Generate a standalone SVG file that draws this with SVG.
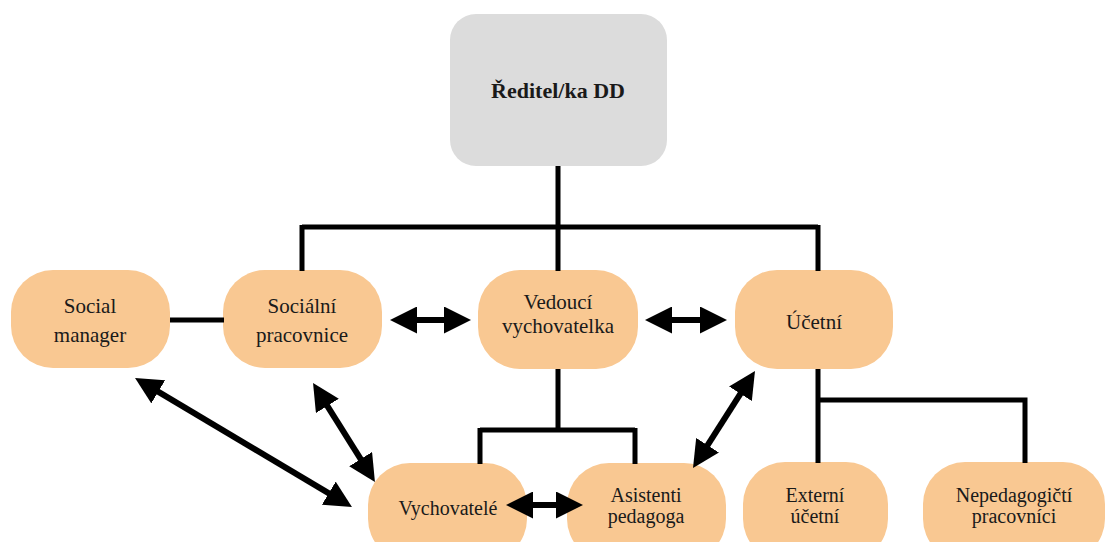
<svg xmlns="http://www.w3.org/2000/svg" width="1112" height="542" viewBox="0 0 1112 542">
<style>
.n{fill:#f9c892;}
.top{fill:#dcdcdc;}
text{font-family:"Liberation Serif","Times New Roman",serif;font-size:21px;fill:#1a1a1a;text-anchor:middle;}
.b{font-weight:bold;font-size:22px;}
.s{font-size:20px;}
.c{fill:none;stroke:#000;stroke-width:5;}
.a{fill:none;stroke:#000;stroke-width:6;marker-start:url(#ah);marker-end:url(#ah);}
</style>
<defs>
<marker id="ah" markerUnits="userSpaceOnUse" markerWidth="27" markerHeight="27" viewBox="0 0 27 27" refX="9" refY="13.5" orient="auto-start-reverse">
<path d="M0,0 L27,13.5 L0,27 Z" fill="#000"/>
</marker>
</defs>
<rect width="1112" height="542" fill="#fff"/>
<g id="reditel">
<rect class="top" x="450" y="14" width="217" height="152" rx="26"/>
<text class="b" x="558" y="98">Ředitel/ka DD</text>
</g>
<g id="social-manager">
<rect class="n" x="11" y="270" width="159" height="98" rx="42"/>
<text x="90" y="313">Social</text>
<text x="90" y="342">manager</text>
</g>
<g id="socialni-pracovnice">
<rect class="n" x="223" y="270" width="159" height="98" rx="42"/>
<text x="302" y="313">Sociální</text>
<text x="302" y="342">pracovnice</text>
</g>
<g id="vedouci">
<rect class="n" x="478" y="270" width="160" height="99" rx="42"/>
<text x="558" y="309">Vedoucí</text>
<text x="558" y="333">vychovatelka</text>
</g>
<g id="ucetni">
<rect class="n" x="735" y="270" width="158" height="99" rx="42"/>
<text x="814" y="329">Účetní</text>
</g>
<g id="vychovatele">
<rect class="n" x="368" y="463" width="159" height="98" rx="42"/>
<text class="s" x="448" y="515">Vychovatelé</text>
</g>
<g id="asistenti">
<rect class="n" x="567" y="463" width="159" height="98" rx="42"/>
<text class="s" x="646" y="502">Asistenti</text>
<text class="s" x="646" y="523">pedagoga</text>
</g>
<g id="externi">
<rect class="n" x="743" y="462" width="145" height="99" rx="42"/>
<text class="s" x="815" y="502">Externí</text>
<text class="s" x="815" y="523">účetní</text>
</g>
<g id="nepedagogicti">
<rect class="n" x="923" y="462" width="182" height="99" rx="42"/>
<text class="s" x="1014" y="502">Nepedagogičtí</text>
<text class="s" x="1014" y="523">pracovníci</text>
</g>
<g id="connectors">
<path class="c" d="M558,166 V227 M302,227 H818 M302,225 V271 M558,227 V271 M818,225 V271"/>
<path class="c" d="M170,320 H224"/>
<path class="c" d="M558,369 V430 M480,430 H635 M480,428 V464 M635,428 V464"/>
<path class="c" d="M818,369 V463 M818,400 H1025 V463"/>
<line class="a" x1="408" y1="320" x2="453" y2="320"/>
<line class="a" x1="663" y1="320" x2="709" y2="320"/>
<line class="a" x1="524" y1="505" x2="565" y2="505"/>
<line class="a" x1="150.5" y1="387.2" x2="336.5" y2="497.8"/>
<line class="a" x1="322.6" y1="398.3" x2="365.4" y2="466.7"/>
<line class="a" x1="702.7" y1="452.8" x2="745.3" y2="386.2"/>
</g>
</svg>
